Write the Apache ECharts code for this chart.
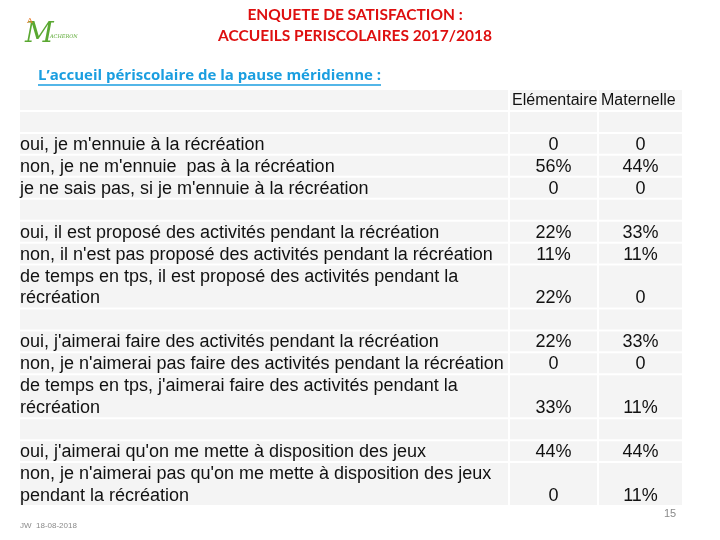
<!DOCTYPE html>
<html>
<head>
<meta charset="utf-8">
<script src="https://cdn.jsdelivr.net/npm/echarts@6/dist/echarts.min.js"></script>
<style>html,body{margin:0;padding:0;background:#fff;}#c{width:720px;height:540px;}</style>
</head>
<body>
<div id="c"></div>
<script>
// ---- data ----
const columns = ['Elémentaire', 'Maternelle'];
const rowLabels = [
  '',
  '',
  "oui, je m'ennuie à la récréation",
  "non, je ne m'ennuie  pas à la récréation",
  "je ne sais pas, si je m'ennuie à la récréation",
  '',
  "oui, il est proposé des activités pendant la récréation",
  "non, il n'est pas proposé des activités pendant la récréation",
  "de temps en tps, il est proposé des activités pendant la",
  "récréation",
  '',
  "oui, j'aimerai faire des activités pendant la récréation",
  "non, je n'aimerai pas faire des activités pendant la récréation",
  "de temps en tps, j'aimerai faire des activités pendant la",
  "récréation",
  '',
  "oui, j'aimerai qu'on me mette à disposition des jeux",
  "non, je n'aimerai pas qu'on me mette à disposition des jeux",
  "pendant la récréation"
];
const elementaire = [null, null, 0, 56, 0, null, 22, 11, null, 22, null, 22, 0, null, 33, null, 44, null, 0];
const maternelle  = [null, null, 0, 44, 0, null, 33, 11, null, 0, null, 33, 0, null, 11, null, 44, null, 11];
const mergedRows = [[8, 9], [13, 14], [17, 18]];

// ---- build ----
const rowIdx = rowLabels.map((_, i) => String(i));
const valueCols = [elementaire, maternelle];
const colEdges = [[0, 488], [490, 577], [579, 662]];
const mergeStart = new Set(mergedRows.map(m => m[0]));
const mergeEnd = new Set(mergedRows.map(m => m[1]));

const fmt = v => (v === null ? '' : (v === 0 ? '0' : v + '%'));
const cellData = [];
for (let r = 0; r < rowLabels.length; r++) {
  for (let c = 0; c < 3; c++) {
    let text = '';
    if (c === 0) text = rowLabels[r];
    else if (r === 0) text = columns[c - 1];
    else text = fmt(valueCols[c - 1][r]);
    cellData.push([c, r, text]);
  }
}

const FONT = '18px "Liberation Sans", Arial, sans-serif';
const HFONT = '16px "Liberation Sans", Arial, sans-serif';

const chart = echarts.init(document.getElementById('c'), null, {renderer: 'canvas'});
chart.setOption({
  animation: false,
  backgroundColor: '#ffffff',
  grid: {left: 20, top: 89, width: 662, height: 417},
  xAxis: {type: 'value', min: 0, max: 662, show: false},
  yAxis: {type: 'category', data: rowIdx, inverse: true, show: false},
  series: [{
    type: 'custom',
    data: cellData,
    encode: {x: 0, y: 1},
    renderItem: function (params, api) {
      const c = api.value(0), r = api.value(1);
      const text = cellData[params.dataIndex][2];
      const e = colEdges[c];
      const p0 = api.coord([e[0], rowIdx[r]]);
      const p1 = api.coord([e[1], rowIdx[r]]);
      const h = api.size([0, 1])[1];
      const children = [];
      if (!mergeEnd.has(r)) {
        const hh = mergeStart.has(r) ? 2 * h : h;
        children.push({
          type: 'rect',
          shape: {x: p0[0], y: p0[1] - h / 2 + 1, width: p1[0] - p0[0], height: hh - 2},
          style: {fill: '#f4f4f4'}
        });
      }
      if (text) {
        let x, align, font = FONT;
        if (c === 0) { x = p0[0]; align = 'left'; }
        else if (r === 0) { x = p0[0] + 2; align = 'left'; font = HFONT; }
        else { x = (p0[0] + p1[0]) / 2; align = 'center'; }
        children.push({
          type: 'text',
          style: {text: text, x: x, y: p0[1] + 1, align: align, verticalAlign: 'middle', font: font, fill: '#111'}
        });
      }
      return {type: 'group', children: children};
    }
  }],
  graphic: [
    {type: 'text', x: 355, y: 15, style: {text: 'ENQUETE DE SATISFACTION :', align: 'center', verticalAlign: 'middle', font: 'bold 15.5px Lato, sans-serif', fill: '#de0f0f'}},
    {type: 'text', x: 355, y: 36, style: {text: 'ACCUEILS PERISCOLAIRES 2017/2018', align: 'center', verticalAlign: 'middle', font: 'bold 15.5px Lato, sans-serif', fill: '#de0f0f'}},
    {type: 'text', x: 38, y: 76, style: {text: 'L’accueil périscolaire de la pause méridienne :', verticalAlign: 'middle', font: 'bold 15px "Open Sans", sans-serif', fill: '#1a9ee0'}},
    {type: 'line', shape: {x1: 38, y1: 85, x2: 381, y2: 85}, style: {stroke: '#1a9ee0', lineWidth: 1.5}},
    // logo
    {type: 'text', left: 25, top: 21, style: {text: 'M', font: 'italic 28px "DejaVu Serif", serif', fill: '#5aa832'}},
    {type: 'text', left: 27, top: 17, style: {text: 'A', font: '8px "DejaVu Serif", serif', fill: '#e87b2a'}},
    {type: 'text', left: 50, top: 34, style: {text: 'ACHERON', font: 'italic 5px "DejaVu Serif", serif', fill: '#5aa832'}},
    // footer
    {type: 'text', left: 20, top: 522, style: {text: 'JW  18-08-2018', font: '8px "Liberation Sans", sans-serif', fill: '#8a8a8a'}},
    {type: 'text', left: 664, top: 508, style: {text: '15', font: '11px "Liberation Sans", sans-serif', fill: '#8a8a8a'}}
  ]
});
</script>
</body>
</html>
